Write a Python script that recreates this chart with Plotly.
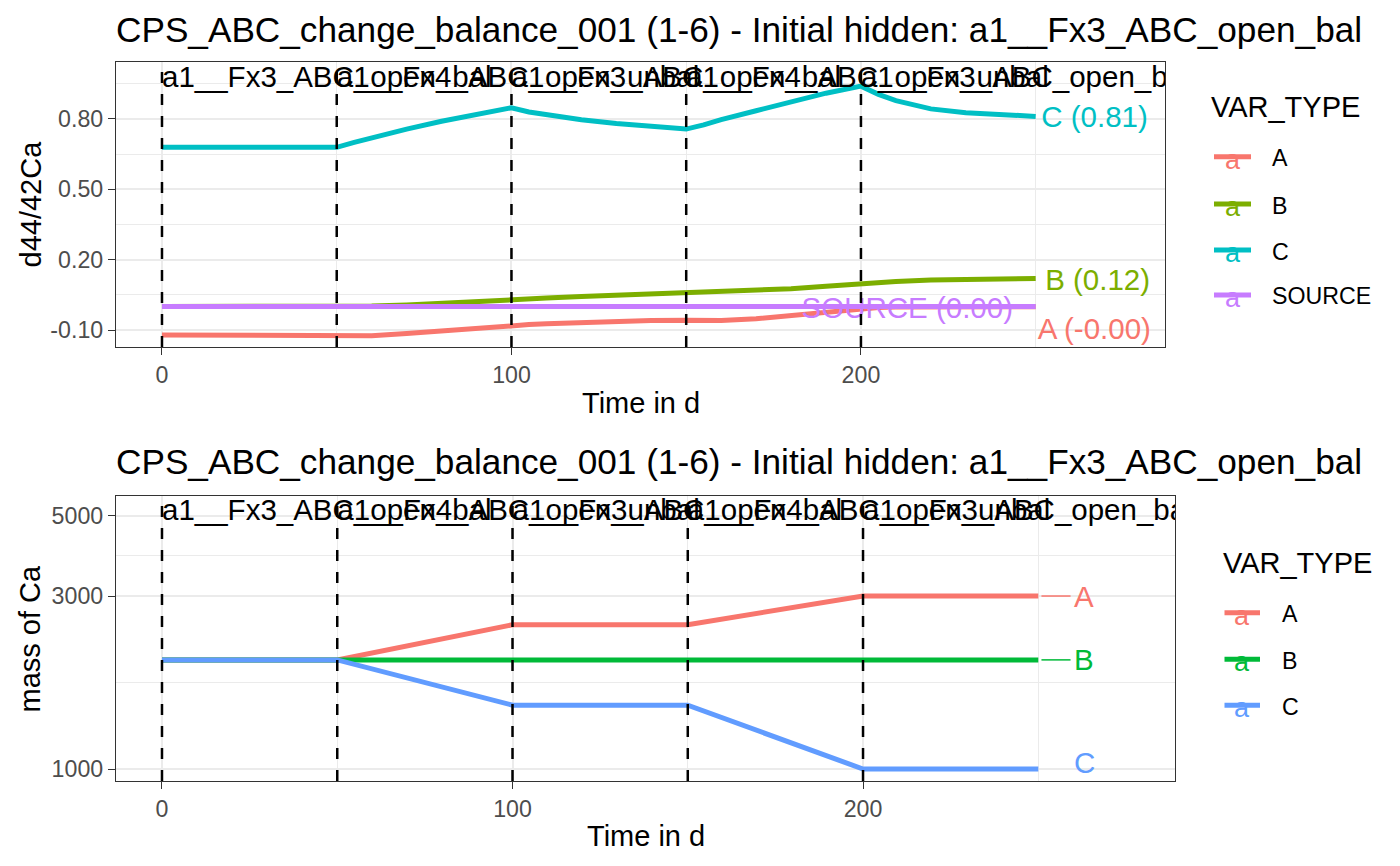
import plotly.graph_objects as go

# the page puts the plot 8px in from the top-left corner
OFF = 8
W, H = 1400 - 2 * OFF, 866 - 2 * OFF
FONT = "Liberation Sans, Arial, Helvetica, sans-serif"

title_txt = "CPS_ABC_change_balance_001 (1-6) - Initial hidden: a1__Fx3_ABC_open_bal"

# hidden-state change events (vertical dashed lines + labels)
event_t = [0, 50, 100, 150, 200]
event_names = ["a1__Fx3_ABC_open_bal", "a1__Fx4_ABC_open_unbal", "a1__Fx3_ABC_open_bal",
               "a1__Fx4_ABC_open_unbal", "a1__Fx3_ABC_open_bal"]

# --- top panel: d44/42Ca ---
t_top = [0, 50, 55, 60, 70, 80, 90, 100, 105, 110, 120, 130, 140, 150, 155, 160,
         170, 180, 190, 200, 205, 210, 220, 230, 240, 250]
a_top = [-0.121, -0.121, -0.123, -0.124, -0.115, -0.103, -0.092, -0.081, -0.077, -0.073,
         -0.067, -0.063, -0.060, -0.058, -0.059, -0.060, -0.052, -0.038, -0.022, -0.008,
         -0.004, -0.002, -0.001, -0.001, -0.001, -0.001]
b_top = [0.0, 0.0, 0.0, 0.002, 0.007, 0.013, 0.020, 0.028, 0.032, 0.036, 0.043, 0.049,
         0.054, 0.058, 0.060, 0.062, 0.068, 0.076, 0.087, 0.098, 0.103, 0.107, 0.113,
         0.117, 0.119, 0.120]
c_top = [0.679, 0.679, 0.700, 0.720, 0.757, 0.790, 0.820, 0.848, 0.830, 0.818, 0.797,
         0.781, 0.767, 0.757, 0.775, 0.797, 0.835, 0.875, 0.910, 0.940, 0.905, 0.878,
         0.843, 0.827, 0.818, 0.811]
src_top = [0.0] * len(t_top)
top_names = ["A", "B", "C", "SOURCE"]
top_colors = ["#F8766D", "#7CAE00", "#00BFC4", "#C77CFF"]
# repelled end-label positions
top_lab_x = [250.6, 252.7, 251.6, 183.0]
top_lab_y = [-0.105, 0.102, 0.797, -0.016]

# --- bottom panel: mass of Ca ---
t_bot = [0, 50, 100, 150, 200, 250]
a_bot = [2000, 2000, 2500, 2500, 3000, 3000]
b_bot = [2000, 2000, 2000, 2000, 2000, 2000]
c_bot = [2000, 2000, 1500, 1500, 1000, 1000]
bot_names = ["A", "B", "C"]
bot_colors = ["#F8766D", "#00BA38", "#619CFF"]
bot_lab_x = [260.2, 260.2, 260.2]
bot_lab_y = [2932, 1960, 1019]
bot_seg_x = [[250.9, 259.2], [250.9, 259.2], None]

fig = go.Figure()

top_series = [a_top, b_top, c_top, src_top]
for name, vals, col in zip(top_names, top_series, top_colors):
    fig.add_trace(go.Scatter(x=t_top, y=vals, mode="lines", line=dict(color=col, width=5),
                             xaxis="x", yaxis="y", showlegend=False))

fig.add_trace(go.Scatter(x=event_t, y=[0.968] * len(event_t), text=event_names, mode="text",
                         textposition="middle right", textfont=dict(size=29.5, color="black"),
                         xaxis="x", yaxis="y", showlegend=False))

for name, vals, col, lx, ly in zip(top_names, top_series, top_colors, top_lab_x, top_lab_y):
    pos = "middle right"
    fig.add_trace(go.Scatter(x=[lx], y=[ly], text=[f"{name} ({vals[-1]:.2f})"], mode="text",
                             textposition=pos, textfont=dict(size=29.5, color=col),
                             xaxis="x", yaxis="y", showlegend=False))

bot_series = [a_bot, b_bot, c_bot]
for name, vals, col in zip(bot_names, bot_series, bot_colors):
    fig.add_trace(go.Scatter(x=t_bot, y=vals, mode="lines", line=dict(color=col, width=5),
                             xaxis="x2", yaxis="y2", showlegend=False))

fig.add_trace(go.Scatter(x=event_t, y=[5093] * len(event_t), text=event_names, mode="text",
                         textposition="middle right", textfont=dict(size=29.5, color="black"),
                         xaxis="x2", yaxis="y2", showlegend=False))

for name, vals, col, lx, ly, seg in zip(bot_names, bot_series, bot_colors, bot_lab_x, bot_lab_y, bot_seg_x):
    if seg:
        fig.add_trace(go.Scatter(x=seg, y=[vals[-1], vals[-1]], mode="lines",
                                 line=dict(color=col, width=1.5),
                                 xaxis="x2", yaxis="y2", showlegend=False))
    fig.add_trace(go.Scatter(x=[lx], y=[ly], text=[name], mode="text",
                             textposition="middle right", textfont=dict(size=29.5, color=col),
                             xaxis="x2", yaxis="y2", showlegend=False))

# dashed event lines
for t in event_t:
    for xr, yr in [("x", "y domain"), ("x2", "y2 domain")]:
        fig.add_shape(type="line", x0=t, x1=t, y0=0, y1=1, xref=xr, yref=yr,
                      line=dict(color="black", width=2.5, dash="11px,11px"))


def px(x):
    return (x - OFF) / W


def py(y):
    return 1 - (y - OFF) / H


axis_common = dict(showline=True, linecolor="#333333", linewidth=1.3, mirror=True,
                   ticks="outside", ticklen=7, tickwidth=1.3, tickcolor="#333333",
                   tickfont=dict(size=23.2, color="#4D4D4D", family=FONT),
                   showgrid=True, gridcolor="#EBEBEB", gridwidth=1.7, zeroline=False)
minor_grid = dict(showgrid=True, gridcolor="#EBEBEB", gridwidth=0.9)

fig.update_layout(
    width=W, height=H,
    margin=dict(l=0, r=0, t=0, b=0),
    paper_bgcolor="white", plot_bgcolor="white",
    font=dict(family=FONT, color="black"),
    xaxis=dict(axis_common, domain=[px(116), px(1165)], range=[-13.16, 287.0],
               tickvals=[0, 100, 200], anchor="y",
               minor=dict(minor_grid, tickvals=[50, 150, 250])),
    yaxis=dict(axis_common, domain=[py(347), py(62)], range=[-0.1725, 1.043],
               tickvals=[-0.1, 0.2, 0.5, 0.8], ticktext=["-0.10", "0.20", "0.50", "0.80"], anchor="x",
               minor=dict(minor_grid, tickvals=[0.05, 0.35, 0.65, 0.95])),
    xaxis2=dict(axis_common, domain=[px(116), px(1175)], range=[-13.12, 289.0],
                tickvals=[0, 100, 200], anchor="y2",
                minor=dict(minor_grid, tickvals=[50, 150, 250])),
    yaxis2=dict(axis_common, domain=[py(781), py(496)], type="log", range=[2.967, 3.753],
                tickvals=[1000, 3000, 5000], ticktext=["1000", "3000", "5000"], anchor="x2",
                minor=dict(minor_grid, tickvals=[1733, 3873])),
)

ann = []
# titles
for y in [29.5, 461.7]:
    ann.append(dict(text=title_txt, x=px(114), y=py(y), xanchor="left", yanchor="middle",
                    font=dict(size=35.2)))
# axis titles
ann.append(dict(text="Time in d", x=px(640.5), y=py(403), xanchor="center", yanchor="middle",
                font=dict(size=29)))
ann.append(dict(text="Time in d", x=px(645.5), y=py(836), xanchor="center", yanchor="middle",
                font=dict(size=29)))
ann.append(dict(text="d44/42Ca", x=px(30), y=py(204.5), xanchor="center", yanchor="middle",
                textangle=-90, font=dict(size=29)))
ann.append(dict(text="mass of Ca", x=px(29), y=py(638.5), xanchor="center", yanchor="middle",
                textangle=-90, font=dict(size=29)))

shapes = []
# legends (VAR_TYPE)
legends = [
    dict(names=top_names, colors=top_colors, tx=1209, ty=107, kx=(1214, 1251), lx=1270,
         ys=[156.7, 204, 250, 295]),
    dict(names=bot_names, colors=bot_colors, tx=1221, ty=563, kx=(1224.5, 1260), lx=1280,
         ys=[612.7, 659.3, 705.3]),
]
for lg in legends:
    ann.append(dict(text="VAR_TYPE", x=px(lg["tx"]), y=py(lg["ty"]), xanchor="left",
                    yanchor="middle", font=dict(size=29)))
    for name, col, yy in zip(lg["names"], lg["colors"], lg["ys"]):
        shapes.append(dict(type="line", xref="paper", yref="paper", x0=px(lg["kx"][0]),
                           x1=px(lg["kx"][1]), y0=py(yy), y1=py(yy),
                           line=dict(color=col, width=5)))
        ann.append(dict(text="a", x=px((lg["kx"][0] + lg["kx"][1]) / 2), y=py(yy + 3),
                        xanchor="center", yanchor="middle", font=dict(size=27, color=col)))
        ann.append(dict(text=name, x=px(lg["lx"]), y=py(yy + 1.5), xanchor="left",
                        yanchor="middle", font=dict(size=23.2)))

for a in ann:
    a.setdefault("xref", "paper")
    a.setdefault("yref", "paper")
    a.setdefault("showarrow", False)
fig.update_layout(annotations=ann)
for s in shapes:
    fig.add_shape(**s)

fig.write_html("out.html")
